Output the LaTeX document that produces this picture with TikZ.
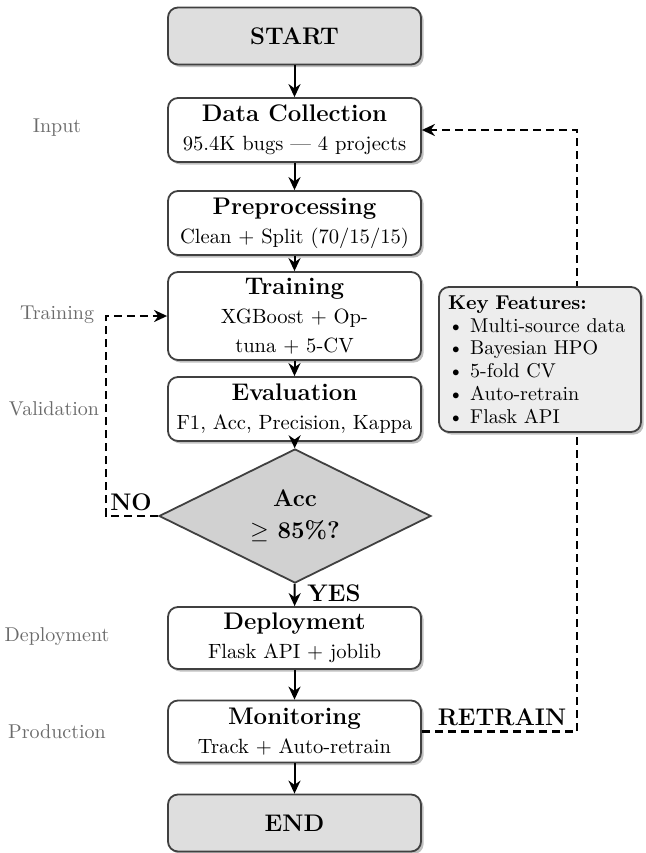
\documentclass[tikz,border=0pt]{standalone}
\usetikzlibrary{shapes.geometric,shadows,arrows.meta}
\begin{document}
\begin{tikzpicture}[x=0.5pt,y=-0.5pt,
  box/.style={draw=black!75, line width=0.9pt, rounded corners=5pt, fill=white,
    minimum width=126.5pt, align=center, inner sep=2pt, font=\fontsize{10.3}{12.4}\selectfont,
    drop shadow={shadow xshift=1.3pt, shadow yshift=-1.3pt, fill=black!45, opacity=0.55}},
  term/.style={box, fill=black!13, minimum height=28.5pt, font=\large\bfseries},
  side/.style={text=black!58, font=\normalsize},
  lbl/.style={font=\large\bfseries, inner sep=1pt},
  arr/.style={draw=black, line width=1pt, -{Stealth[length=6.5pt,width=6pt]}},
  dashline/.style={draw=black, line width=1.3pt, dash pattern=on 4pt off 2.5pt},
  dasharr/.style={dashline, -{Stealth[length=6.5pt,width=6pt]}}
]
\useasboundingbox (0,0) rectangle (646,853);

% main flow
\node[term] (start) at (294.5,36) {START};
\node[box, minimum height=32pt] (dc) at (294.5,130)
  {{\large\bfseries Data Collection}\\[2pt] 95.4K bugs --- 4 projects};
\node[box, minimum height=32pt] (pre) at (294.5,223)
  {{\large\bfseries Preprocessing}\\[2pt] Clean + Split (70/15/15)};
\node[box, minimum height=44pt] (train) at (294.5,316)
  {{\large\bfseries Training}\\[2pt] XGBoost + Op-\\[2pt] tuna + 5-CV};
\node[box, minimum height=32pt] (eval) at (294.5,409)
  {{\large\bfseries Evaluation}\\[2pt] F1, Acc, Precision, Kappa};
\node[diamond, draw=black!75, fill=black!18, line width=0.9pt, aspect=2,
  minimum width=136pt, minimum height=67pt, inner sep=0pt, align=center,
  font=\large\bfseries] (dec) at (295,516) {Acc\\[2pt] $\geq$ 85\%?};
\node[box, minimum height=31pt] (dep) at (294.5,638)
  {{\large\bfseries Deployment}\\[2pt] Flask API + joblib};
\node[box, minimum height=31pt] (mon) at (294.5,731.5)
  {{\large\bfseries Monitoring}\\[2pt] Track + Auto-retrain};
\node[term] (end) at (294.5,823) {END};

\draw[arr] (start) -- (dc);
\draw[arr] (dc) -- (pre);
\draw[arr] (pre) -- (train);
\draw[arr] (train) -- (eval);
\draw[arr] (eval) -- (dec);
\draw[arr] (dec) -- (dep);
\draw[arr] (dep) -- (mon);
\draw[arr] (mon) -- (end);

% NO loop
\coordinate (nob) at (106,516);
\draw[dasharr] (dec.west) -- (nob) |- (train.west);
\node[lbl] (no) at (131,502) {NO};
\node[lbl] (yes) at (334,593) {YES};

% RETRAIN loop
\coordinate (rb) at (577,731.5);
\draw[dasharr] (mon.east) -- (rb) |- (dc.east);
\node[lbl] (rt) at (502,717) {RETRAIN};

% key features box
\node[draw=black!75, line width=0.9pt, rounded corners=5pt, fill=black!7,
  minimum width=101pt, minimum height=72.5pt, text width=92pt, inner xsep=4.5pt,
  align=left, font=\fontsize{10}{11.4}\selectfont,
  drop shadow={shadow xshift=1.3pt, shadow yshift=-1.3pt, fill=black!45, opacity=0.55}]
  (kf) at (540,359.5)
  {\textbf{Key Features:}\\
   \textbullet\ Multi-source data\\
   \textbullet\ Bayesian HPO\\
   \textbullet\ 5-fold CV\\
   \textbullet\ Auto-retrain\\
   \textbullet\ Flask API};

% side labels
\node[side] (sin) at (57,128) {Input};
\node[side] (str) at (57,315) {Training};
\node[side] (sva) at (54,409) {Validation};
\node[side] (sde) at (57,637) {Deployment};
\node[side] (spr) at (57,732) {Production};
\end{tikzpicture}
\end{document}
